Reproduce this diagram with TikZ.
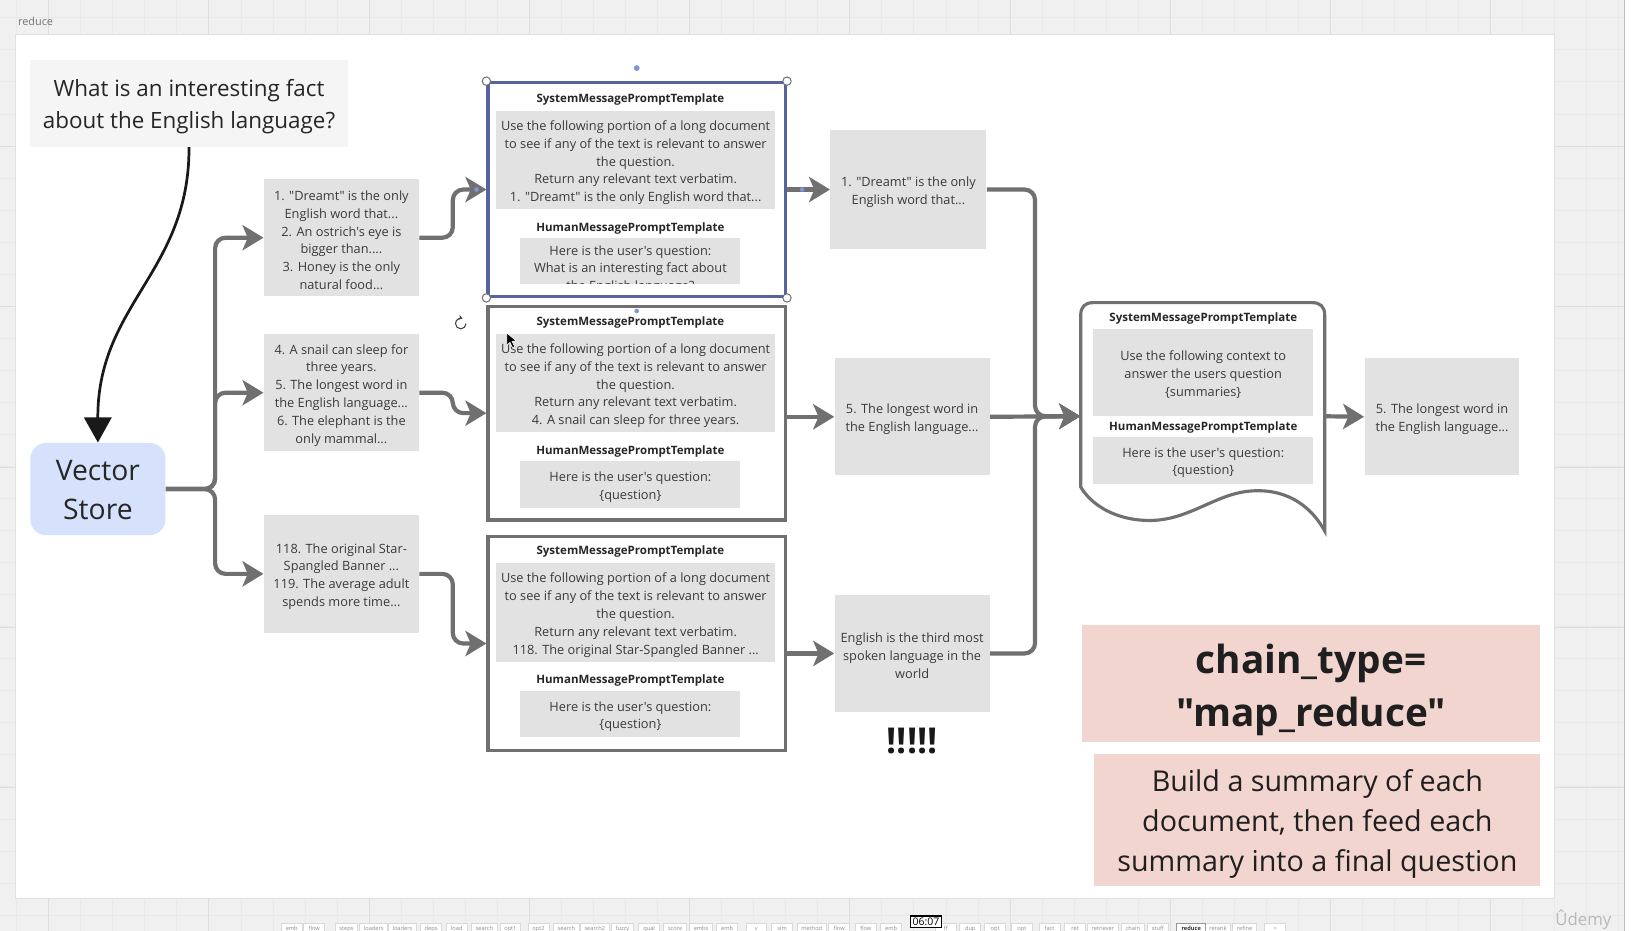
\documentclass[tikz,border=0pt]{standalone}
\usepackage{fontspec}
\newfontfamily\osans{Open Sans}
\usetikzlibrary{arrows.meta}
\definecolor{lgray}{HTML}{707070}
\definecolor{boxgray}{HTML}{E2E2E2}
\definecolor{qgray}{HTML}{F5F5F5}
\definecolor{vsblue}{HTML}{D6E2FC}
\definecolor{pinkb}{HTML}{F3D5D0}
\definecolor{outbg}{HTML}{F0F0F0}
\definecolor{gridminor}{HTML}{E9E9E9}
\definecolor{gridmajor}{HTML}{DEDEDE}
\definecolor{txt}{HTML}{3A3A3A}
\definecolor{selblue}{HTML}{56639E}
\definecolor{dotblue}{HTML}{7D95DA}
\begin{document}
\begin{tikzpicture}[x=0.5pt,y=-0.5pt,
  conn/.style={draw=lgray, line width=2pt, rounded corners=5pt, -{Stealth[length=10pt,width=12pt,inset=2.5pt]}},
  gfill/.style={fill=boxgray, inner sep=0pt},
  tx/.style={inner sep=0pt, align=center, text=txt, font=\osans\fontsize{6.1}{8.5}\selectfont, yshift=-1.2pt},
  tmpl/.style={draw=lgray, line width=1.5pt, fill=white, inner sep=0pt, minimum width=142pt, minimum height=102pt},
  hdr/.style={font=\osans\bfseries\fontsize{5.5}{6.5}\selectfont, text=black!85, inner sep=0pt, yshift=-1pt},
  chunk/.style={fill=boxgray, inner sep=0pt, minimum width=74pt, minimum height=56pt},
  tab/.style={draw=black!15, fill=white, text=black!45, font=\osans\fontsize{2.7}{3}\selectfont, inner xsep=2pt, inner ysep=1.6pt, text height=2pt, text depth=0.6pt, minimum width=10pt, anchor=north},
  handle/.style={draw=black!55, fill=white, line width=0.5pt, circle, inner sep=0pt, minimum size=4pt}
]
\useasboundingbox (0,0) rectangle (1568,889);
% background with grid
\fill[outbg] (0,0) rectangle (1568,889);
\foreach \i in {0,...,52} \draw[gridminor, line width=0.4pt] ({15.9+\i*30.6},0) -- ++(0,889);
\foreach \i in {0,...,30} \draw[gridminor, line width=0.4pt] (0,{17+\i*30.6}) -- ++(1568,0);
\foreach \i in {0,...,10} \draw[gridmajor, line width=0.5pt] ({46.5+\i*153},0) -- ++(0,889);
\foreach \i in {0,...,6} \draw[gridmajor, line width=0.5pt] (0,{-13+\i*153}) -- ++(1568,0);
\fill[white] (1552,0) rectangle (1568,889);
\draw[black!25, line width=0.5pt] (1551.5,0) -- (1551.5,889);
\fill[white] (15,33) rectangle (1484,858);
\draw[black!12, line width=0.5pt] (15,33) rectangle (1484,858);
\node[text=black!55, font=\osans\fontsize{5.2}{6}\selectfont, inner sep=0pt] (frame) at (34,20) {reduce};

% question and vector store
\node[fill=qgray, inner sep=0pt, minimum width=151.5pt, minimum height=41.5pt] (q) at (180.5,98.5) {};
\node[tx, text=black!85, font=\osans\fontsize{10.7}{15}\selectfont, yshift=-0.55pt] (qt) at (q) {What is an interesting fact\\about the English language?};
\node[fill=vsblue, rounded corners=7.5pt, inner sep=0pt, minimum width=64.5pt, minimum height=44pt] (vs) at (93.5,467) {};
\node[tx, text=black!85, font=\osans\fontsize{13.5}{19}\selectfont, yshift=0.7pt] (vst) at (vs) {Vector\\Store};
\draw[black!90, line width=1.3pt, -{Triangle[length=12pt,width=13pt]}] (q.south) .. controls (181,260) and (93,290) .. (vs.north);

% chunks
\node[chunk] (c1) at (326,227) {};
\node[tx] (c1t) at (c1) {1. "Dreamt" is the only\\English word that...\\2. An ostrich's eye is\\bigger than....\\3. Honey is the only\\natural food...};
\node[chunk] (c2) at (326,375) {};
\node[tx] (c2t) at (c2) {4. A snail can sleep for\\three years.\\5. The longest word in\\the English language...\\6. The elephant is the\\only mammal...};
\node[chunk] (c3) at (326,548) {};
\node[tx] (c3t) at (c3) {118. The original Star-\\Spangled Banner ...\\119. The average adult\\spends more time...};

% template box 1 (selected)
\node[tmpl, draw=selblue] (b1) at (608,181) {};
\node[hdr] (b1h) at (602,93) {SystemMessagePromptTemplate};
\node[gfill, minimum width=133pt, minimum height=47pt] (b1s) at (607,153) {};
\node[tx] (b1st) at (b1s) {Use the following portion of a long document\\to see if any of the text is relevant to answer\\the question.\\Return any relevant text verbatim.\\1. "Dreamt" is the only English word that...};
\node[hdr] (b1m) at (602,216) {HumanMessagePromptTemplate};
\node[gfill, minimum width=105pt, minimum height=22pt] (b1u) at (602,249) {};
\begin{scope}
\clip (497,227) rectangle (707,271);
\node[tx] (b1ut) at (602,255) {Here is the user's question:\\What is an interesting fact about\\the English language?};
\end{scope}

% template box 2
\node[tmpl] (b2) at (608,394.5) {};
\node[hdr] (b2h) at (602,306) {SystemMessagePromptTemplate};
\node[gfill, minimum width=133pt, minimum height=47pt] (b2s) at (607,366) {};
\node[tx] (b2st) at (b2s) {Use the following portion of a long document\\to see if any of the text is relevant to answer\\the question.\\Return any relevant text verbatim.\\4. A snail can sleep for three years.};
\node[hdr] (b2m) at (602,429) {HumanMessagePromptTemplate};
\node[gfill, minimum width=105pt, minimum height=22.5pt] (b2u) at (602,462.5) {};
\node[tx] (b2ut) at (b2u) {Here is the user's question:\\\{question\}};

% template box 3
\node[tmpl] (b3) at (608,614.5) {};
\node[hdr] (b3h) at (602,525) {SystemMessagePromptTemplate};
\node[gfill, minimum width=133pt, minimum height=47pt] (b3s) at (607,585) {};
\node[tx] (b3st) at (b3s) {Use the following portion of a long document\\to see if any of the text is relevant to answer\\the question.\\Return any relevant text verbatim.\\118. The original Star-Spangled Banner ...};
\node[hdr] (b3m) at (602,648) {HumanMessagePromptTemplate};
\node[gfill, minimum width=105pt, minimum height=22pt] (b3u) at (602,682) {};
\node[tx] (b3ut) at (b3u) {Here is the user's question:\\\{question\}};

% summaries
\node[chunk, minimum width=74.5pt, minimum height=56.5pt] (s1) at (867.5,181) {};
\node[tx] (s1t) at (s1) {1. "Dreamt" is the only\\English word that...};
\node[chunk] (s2) at (871,398) {};
\node[tx] (s2t) at (s2) {5. The longest word in\\the English language...};
\node[chunk] (s3) at (871,624) {};
\node[tx] (s3t) at (s3) {English is the third most\\spoken language in the\\world};
\node[font=\osans\bfseries\fontsize{17}{20}\selectfont, text=black!90, inner sep=0pt] (bang) at (871,708) {!!!!!};

% final document box
\node[minimum width=116.5pt, minimum height=108.5pt, inner sep=0pt] (fb) at (1148.5,397.5) {};
\draw[lgray, line width=1.5pt, fill=white] (1032,465) -- (1032,301) .. controls (1032,293) and (1036,289) .. (1044,289) -- (1253,289) .. controls (1261,289) and (1265,293) .. (1265,301) -- (1265,507) .. controls (1250,480) and (1225,466) .. (1193,469) .. controls (1160,472) and (1135,497) .. (1098,497) .. controls (1065,497) and (1042,482) .. (1032,465) -- cycle;
\node[hdr] (fbh) at (1149,302) {SystemMessagePromptTemplate};
\node[gfill, minimum width=105pt, minimum height=41.5pt] (fbs) at (1149,355.5) {};
\node[tx] (fbst) at (fbs) {Use the following context to\\answer the users question\\\{summaries\}};
\node[hdr] (fbm) at (1149,406) {HumanMessagePromptTemplate};
\node[gfill, minimum width=105pt, minimum height=22.5pt] (fbu) at (1149,439.5) {};
\node[tx] (fbut) at (fbu) {Here is the user's question:\\\{question\}};

\node[chunk] (r) at (1377,398) {};
\node[tx] (rt) at (r) {5. The longest word in\\the English language...};

% pink notes
\node[fill=pinkb, inner sep=0pt, minimum width=219pt, minimum height=56pt] (ct) at (1252,653) {};
\node[tx, text=black!88, font=\osans\bfseries\fontsize{18.5}{25}\selectfont, yshift=-1.8pt] (ctt) at (ct) {chain\_type=\\"map\_reduce"};
\node[fill=pinkb, inner sep=0pt, minimum width=213pt, minimum height=63pt] (desc) at (1258,783) {};
\node[tx, text=black!88, font=\osans\fontsize{13.7}{19}\selectfont, yshift=-0.8pt] (desct) at (desc) {Build a summary of each\\document, then feed each\\summary into a final question};

% connectors
\draw[conn] (vs.east) -- ++(47,0) |- (c1.west);
\draw[conn] (vs.east) -- ++(47,0) |- (c2.west);
\draw[conn] (vs.east) -- ++(47,0) |- (c3.west);
\draw[conn] (c1.east) -- ++(32,0) |- (b1.west);
\draw[conn] (c2.east) -- ++(32,0) |- (b2.west);
\draw[conn] (c3.east) -- ++(32,0) |- (b3.west);
\draw[conn] (b1.east) -- (s1.west);
\draw[conn] (b2.east |- s2.west) -- (s2.west);
\draw[conn] (b3.east |- s3.west) -- (s3.west);
\draw[conn] (s1.east) -- ++(46,0) |- (fb.west);
\draw[conn] (s2.east) -- (fb.west);
\draw[conn] (s3.east) -- ++(43,0) |- (fb.west);
\draw[conn] (fb.east) -- (r.west);

% selection handles and UI marks
\node[handle] (hnw) at (b1.north west) {};
\node[handle] (hne) at (b1.north east) {};
\node[handle] (hsw) at (b1.south west) {};
\node[handle] (hse) at (b1.south east) {};
\fill[dotblue] (608,65) circle (1.4pt);
\fill[dotblue] (608,297) circle (1.1pt);
\fill[dotblue] (455,181) circle (1.1pt);
\fill[dotblue] (766,181) circle (1.1pt);
\draw[black!75, line width=0.5pt, -{Stealth[length=2pt,width=2.5pt]}] (445,309) arc[start angle=0, end angle=290, radius=5];
\filldraw[black, draw=white, line width=0.3pt] (484,318) -- ++(0,12) -- ++(3,-3) -- ++(2.5,5) -- ++(2,-1) -- ++(-2.5,-5) -- ++(4,-0.5) -- cycle;

% bottom tab bar
\foreach \x/\t [count=\i] in {278.6/emb, 300.2/flow, 330.8/steps, 356.9/loaders, 384.3/loaders, 411.7/deps, 436.2/load, 462.6/search, 487.4/opt1, 514.2/opt2, 540.9/search, 568/search2, 594.4/fuzzy, 619.9/qual, 644.7/score, 669.5/embs, 694.4/emb, 722.3/v, 746.9/sim, 775.2/method, 801.3/flow, 826.8/flow, 851/emb, 903.2/ff, 926.5/dup, 950.3/opt, 975.8/opt, 1002.2/fact, 1026.7/ret, 1053.2/retriever, 1081.8/chain, 1105.7/stuff, 1163/rerank, 1188.5/refine, 1217.8/+}
  \node[tab] (tab\i) at (\x,881) {\t};
\node[tab, draw=black!40, text=black!80, font=\osans\bfseries\fontsize{2.7}{3}\selectfont, minimum width=14pt] (tabred) at (1137.5,881) {reduce};
\node[draw=black, line width=0.6pt, fill=white, text=black, font=\osans\fontsize{5}{6}\selectfont, inner sep=1pt, minimum width=13.5pt, anchor=north] (clock) at (884.3,874) {06:07};
\node[text=black!28, font=\osans\fontsize{8}{9}\selectfont, inner sep=0pt] (udemy) at (1512,878) {Ûdemy};
\end{tikzpicture}
\end{document}
